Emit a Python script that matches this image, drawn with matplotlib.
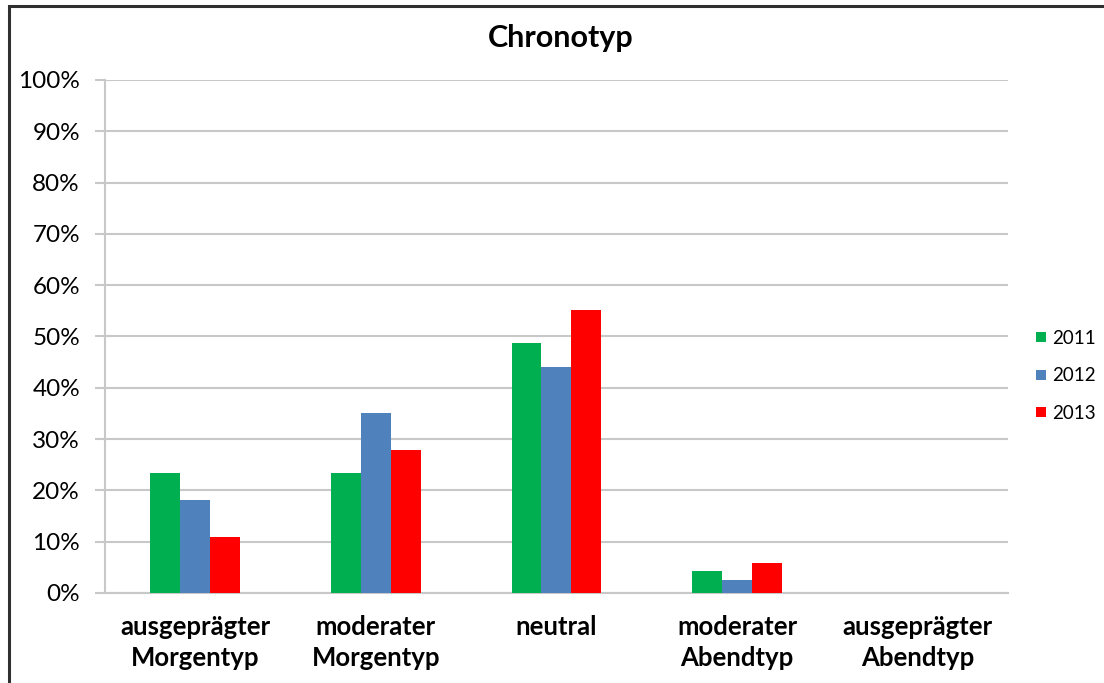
import matplotlib
matplotlib.use("Agg")
import matplotlib.pyplot as plt
from matplotlib.patches import Rectangle
from matplotlib.lines import Line2D
from matplotlib.ticker import FuncFormatter
import numpy as np

plt.rcParams['font.family'] = ['Lato', 'DejaVu Sans']

categories = ["ausgeprägter\nMorgentyp", "moderater\nMorgentyp", "neutral",
              "moderater\nAbendtyp", "ausgeprägter\nAbendtyp"]
years = ["2011", "2012", "2013"]
values_2011 = [23.3, 23.3, 48.8, 4.3, 0.0]
values_2012 = [18.2, 35.0, 44.1, 2.5, 0.0]
values_2013 = [10.9, 27.8, 55.1, 5.9, 0.0]
colors = ["#00B050", "#4F81BD", "#FF0000"]
yticks = [0, 10, 20, 30, 40, 50, 60, 70, 80, 90, 100]

fig = plt.figure(figsize=(11.04, 6.83), dpi=100)
ax = fig.add_axes([0.0951, 0.1318, 0.8179, 0.7511])

x = np.arange(len(categories))
width = 0.166
series = [values_2011, values_2012, values_2013]
for i, (vals, col) in enumerate(zip(series, colors)):
    ax.bar(x + (i - 1) * width, vals, width, color=col, zorder=3, linewidth=0)

ax.set_xlim(-0.5, len(categories) - 0.5)
ax.set_ylim(0, 100)
ax.set_yticks(yticks)
ax.yaxis.set_major_formatter(FuncFormatter(lambda v, p: f"{int(v)}%"))
ax.set_xticks(x)
ax.set_xticklabels(categories, fontsize=18.5, fontweight='bold', linespacing=1.32)

grid_col = "#C8C8C8"
ax.yaxis.grid(True, color=grid_col, linewidth=1.5, zorder=0)
for s in ["top", "right"]:
    ax.spines[s].set_visible(False)
ax.spines["left"].set_color(grid_col)
ax.spines["left"].set_linewidth(1.5)
ax.spines["bottom"].set_color(grid_col)
ax.spines["bottom"].set_linewidth(1.5)
ax.tick_params(axis='y', length=7, width=1.5, color=grid_col, labelsize=17.5, pad=11)
ax.tick_params(axis='x', length=0, pad=16)

fig.text(0.508, 0.945, "Chronotyp", ha='center', va='center',
         fontsize=22, fontweight='bold')

handles = [Line2D([0], [0], marker='s', linestyle='none', markersize=7,
                  markerfacecolor=c, markeredgewidth=0) for c in colors]
fig.legend(handles, years, loc='center left', bbox_to_anchor=(0.922, 0.45),
           frameon=False, fontsize=13.5, handletextpad=0.25, labelspacing=1.1,
           handlelength=0.7)

fig.add_artist(Rectangle((9 / 1104, -0.05), 1.2, 0.05 + 1 - 6 / 683,
                         transform=fig.transFigure, fill=False,
                         edgecolor="#303030", linewidth=2.2))

fig.savefig("out.png", dpi=100)
